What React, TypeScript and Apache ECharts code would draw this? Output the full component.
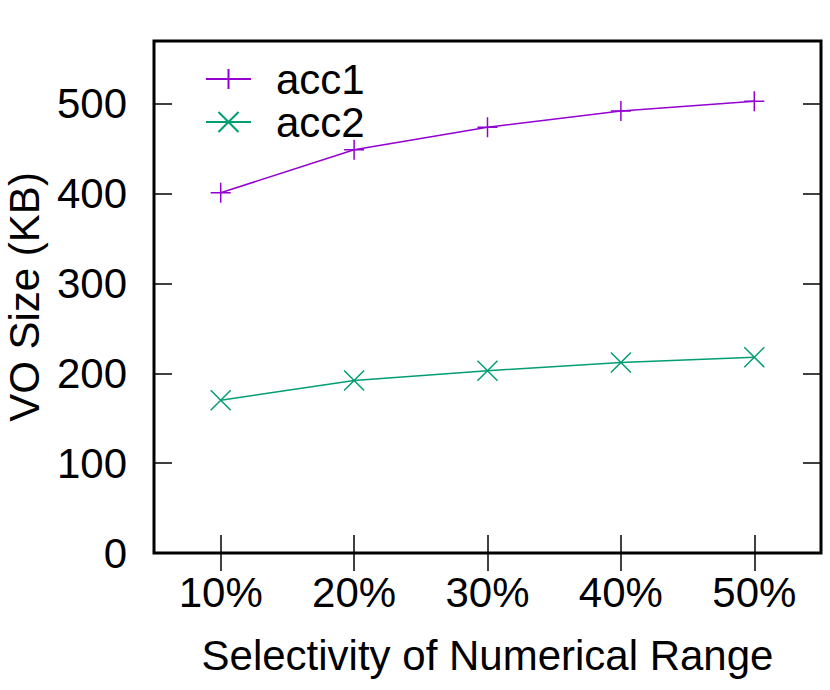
import React, { useEffect, useRef } from "react";
import * as echarts from "echarts";

const categories = ["10%", "20%", "30%", "40%", "50%"];
const acc1 = [401, 449, 474, 492, 503];
const acc2 = [170, 192, 203, 212, 218];
const seriesNames = ["acc1", "acc2"];
const yTicks = { min: 0, max: 570, interval: 100 };

const FONT = "Liberation Sans";
const PLUS = "path://M0,10L20,10M10,0L10,20";
const CROSS = "path://M0,0L20,20M20,0L0,20";

export default function App() {
  const ref = useRef<HTMLDivElement>(null);
  useEffect(() => {
    if (!ref.current) return;
    const chart = echarts.init(ref.current, null, { renderer: "svg" });
    const tickStyle = { show: true, inside: true, length: 18, lineStyle: { color: "#000", width: 1.5 } };
    chart.setOption({
      animation: false,
      textStyle: { fontFamily: FONT },
      grid: {
        left: 154, right: 9, top: 41, bottom: 137,
        outerBoundsMode: "none",
        containLabel: false,
        show: true, borderColor: "#000", borderWidth: 3, backgroundColor: "transparent",
      },
      legend: {
        orient: "vertical",
        left: 200,
        top: 53,
        itemWidth: 45,
        itemHeight: 25,
        itemGap: 1,
        data: seriesNames,
        textStyle: { fontSize: 42, color: "#000", fontFamily: FONT, padding: [0, 0, 0, 20] },
      },
      xAxis: [
        {
          type: "category",
          data: categories,
          boundaryGap: true,
          position: "bottom",
          axisLine: { show: false },
          axisTick: { ...tickStyle, alignWithLabel: true },
          axisLabel: { color: "#000", fontSize: 42, margin: 18, fontFamily: FONT },
          splitLine: { show: false },
          name: "Selectivity of Numerical Range",
          nameLocation: "middle",
          nameGap: 81,
          nameTextStyle: { color: "#000", fontSize: 42, fontFamily: FONT },
        },
        {
          type: "category",
          data: categories,
          boundaryGap: true,
          position: "top",
          axisLine: { show: false },
          axisTick: { ...tickStyle, alignWithLabel: true },
          axisLabel: { show: false },
          splitLine: { show: false },
        },
      ],
      yAxis: [
        {
          type: "value",
          min: yTicks.min,
          max: yTicks.max,
          interval: yTicks.interval,
          position: "left",
          axisLine: { show: false },
          axisTick: tickStyle,
          axisLabel: {
            color: "#000", fontSize: 42, margin: 27, fontFamily: FONT, showMaxLabel: false,
            formatter: (v: number) => (v % 100 === 0 ? String(v) : ""),
          },
          splitLine: { show: false },
          name: "VO Size (KB)",
          nameLocation: "middle",
          nameGap: 109,
          nameTextStyle: { color: "#000", fontSize: 42, fontFamily: FONT },
        },
        {
          type: "value",
          min: yTicks.min,
          max: yTicks.max,
          interval: yTicks.interval,
          position: "right",
          axisLine: { show: false },
          axisTick: tickStyle,
          axisLabel: { show: false },
          splitLine: { show: false },
        },
      ],
      series: [
        {
          name: seriesNames[0],
          type: "line",
          data: acc1,
          symbol: PLUS,
          symbolSize: 20,
          color: "#9400d3",
          lineStyle: { width: 1.5, color: "#9400d3" },
          itemStyle: { color: "#9400d3", borderColor: "#9400d3", borderWidth: 1.5 },
        },
        {
          name: seriesNames[1],
          type: "line",
          data: acc2,
          symbol: CROSS,
          symbolSize: 20,
          color: "#009e73",
          lineStyle: { width: 1.5, color: "#009e73" },
          itemStyle: { color: "#009e73", borderColor: "#009e73", borderWidth: 1.5 },
        },
      ],
    });
    return () => chart.dispose();
  }, []);
  return <div ref={ref} style={{ width: 830, height: 690, position: "absolute", left: 0, top: 0 }} />;
}
